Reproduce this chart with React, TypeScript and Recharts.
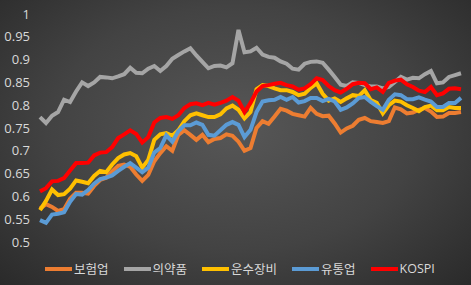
import { LineChart, Line, XAxis, YAxis } from "recharts";

// 지수 상대 수준 (시작=기준), 약 71개 관측치
const insurance = [
  0.573, 0.583, 0.577, 0.568, 0.572, 0.595, 0.608, 0.608, 0.606, 0.623,
  0.636, 0.641, 0.655, 0.667, 0.670, 0.665, 0.648, 0.634, 0.647, 0.677,
  0.695, 0.710, 0.700, 0.735, 0.745, 0.735, 0.724, 0.735, 0.719, 0.726,
  0.728, 0.736, 0.733, 0.720, 0.700, 0.706, 0.750, 0.765, 0.759, 0.775,
  0.792, 0.788, 0.781, 0.778, 0.775, 0.794, 0.781, 0.776, 0.777, 0.760,
  0.740, 0.749, 0.755, 0.768, 0.772, 0.765, 0.763, 0.761, 0.765, 0.795,
  0.791, 0.782, 0.784, 0.790, 0.794, 0.786, 0.774, 0.775, 0.783, 0.783,
  0.785,
];
const pharma = [
  0.774, 0.761, 0.777, 0.785, 0.812, 0.807, 0.830, 0.850, 0.842, 0.850,
  0.862, 0.861, 0.859, 0.863, 0.868, 0.882, 0.871, 0.870, 0.880, 0.886,
  0.875, 0.886, 0.902, 0.910, 0.918, 0.925, 0.909, 0.895, 0.881, 0.886,
  0.887, 0.883, 0.892, 0.965, 0.916, 0.918, 0.926, 0.911, 0.906, 0.904,
  0.896, 0.891, 0.880, 0.878, 0.891, 0.895, 0.896, 0.893, 0.878, 0.862,
  0.845, 0.842, 0.850, 0.849, 0.844, 0.841, 0.841, 0.837, 0.840, 0.851,
  0.862, 0.856, 0.860, 0.859, 0.868, 0.875, 0.848, 0.850, 0.862, 0.866,
  0.870,
];
const transport = [
  0.570, 0.590, 0.615, 0.603, 0.605, 0.617, 0.635, 0.632, 0.629, 0.645,
  0.656, 0.653, 0.670, 0.684, 0.692, 0.695, 0.688, 0.663, 0.680, 0.724,
  0.736, 0.739, 0.733, 0.745, 0.765, 0.778, 0.782, 0.778, 0.774, 0.774,
  0.780, 0.793, 0.799, 0.790, 0.771, 0.785, 0.835, 0.844, 0.842, 0.837,
  0.833, 0.833, 0.829, 0.822, 0.825, 0.838, 0.848, 0.825, 0.810, 0.815,
  0.807, 0.815, 0.822, 0.820, 0.833, 0.811, 0.805, 0.782, 0.800, 0.810,
  0.808, 0.800, 0.794, 0.787, 0.796, 0.799, 0.789, 0.789, 0.796, 0.794,
  0.794,
];
const retail = [
  0.548, 0.542, 0.560, 0.562, 0.565, 0.588, 0.605, 0.604, 0.614, 0.628,
  0.638, 0.641, 0.646, 0.656, 0.665, 0.673, 0.663, 0.653, 0.663, 0.696,
  0.706, 0.734, 0.720, 0.743, 0.756, 0.756, 0.762, 0.757, 0.735, 0.733,
  0.745, 0.757, 0.763, 0.757, 0.730, 0.746, 0.785, 0.808, 0.811, 0.812,
  0.818, 0.812, 0.818, 0.806, 0.809, 0.816, 0.816, 0.809, 0.814, 0.808,
  0.790, 0.795, 0.804, 0.816, 0.818, 0.807, 0.798, 0.790, 0.812, 0.824,
  0.822, 0.813, 0.813, 0.817, 0.812, 0.808, 0.796, 0.796, 0.805, 0.805,
  0.816,
];
const kospi = [
  0.611, 0.618, 0.633, 0.634, 0.640, 0.657, 0.673, 0.673, 0.674, 0.690,
  0.696, 0.697, 0.708, 0.728, 0.736, 0.745, 0.737, 0.718, 0.730, 0.762,
  0.772, 0.774, 0.770, 0.778, 0.794, 0.802, 0.804, 0.800, 0.805, 0.801,
  0.805, 0.810, 0.818, 0.810, 0.785, 0.805, 0.830, 0.842, 0.844, 0.847,
  0.849, 0.844, 0.841, 0.834, 0.837, 0.846, 0.859, 0.855, 0.842, 0.833,
  0.828, 0.836, 0.846, 0.849, 0.848, 0.835, 0.839, 0.829, 0.849, 0.854,
  0.856, 0.846, 0.840, 0.832, 0.829, 0.840, 0.822, 0.826, 0.836, 0.837,
  0.835,
];

const yTicks = [0.5, 0.55, 0.6, 0.65, 0.7, 0.75, 0.8, 0.85, 0.9, 0.95, 1];

const series = [
  { key: "보험업", values: insurance, color: "#ED7D31" },
  { key: "의약품", values: pharma, color: "#A5A5A5" },
  { key: "운수장비", values: transport, color: "#FFC000" },
  { key: "유통업", values: retail, color: "#5B9BD5" },
  { key: "KOSPI", values: kospi, color: "#FF0000" },
];

const data = kospi.map((_, i) => {
  const row: Record<string, number> = { idx: i };
  series.forEach((s) => (row[s.key] = s.values[i]));
  return row;
});

const font = "'Open Sans', 'Noto Sans CJK KR', sans-serif";

export default function App() {
  return (
    <div
      style={{
        position: "absolute",
        left: 0,
        top: 0,
        width: 471,
        height: 285,
        background:
          "radial-gradient(ellipse at 50% 45%, #575757 0%, #434343 55%, #2a2a2a 100%)",
        fontFamily: font,
      }}
    >
      <LineChart
        width={471}
        height={285}
        data={data}
        margin={{ top: 14, right: 10, bottom: 43, left: 0 }}
      >
        <XAxis dataKey="idx" hide />
        <YAxis
          domain={[0.5, 1]}
          ticks={yTicks}
          width={40}
          axisLine={false}
          tickLine={false}
          tickSize={0}
          tickMargin={10}
          interval={0}
          tick={{ fill: "#d9d9d9", fontSize: 13, fontFamily: font }}
        />
        {series.map((s) => (
          <Line
            key={s.key}
            dataKey={s.key}
            type="linear"
            stroke={s.color}
            strokeWidth={4}
            dot={false}
            isAnimationActive={false}
          />
        ))}
      </LineChart>
      <div
        style={{
          position: "absolute",
          left: 45,
          top: 259,
          display: "flex",
          alignItems: "center",
          gap: 15,
          color: "#d9d9d9",
          fontSize: 12.5,
        }}
      >
        {series.map((s) => (
          <div key={s.key} style={{ display: "flex", alignItems: "center", gap: 2 }}>
            <span
              style={{ display: "inline-block", width: 27, height: 4, background: s.color }}
            />
            <span>{s.key}</span>
          </div>
        ))}
      </div>
    </div>
  );
}
